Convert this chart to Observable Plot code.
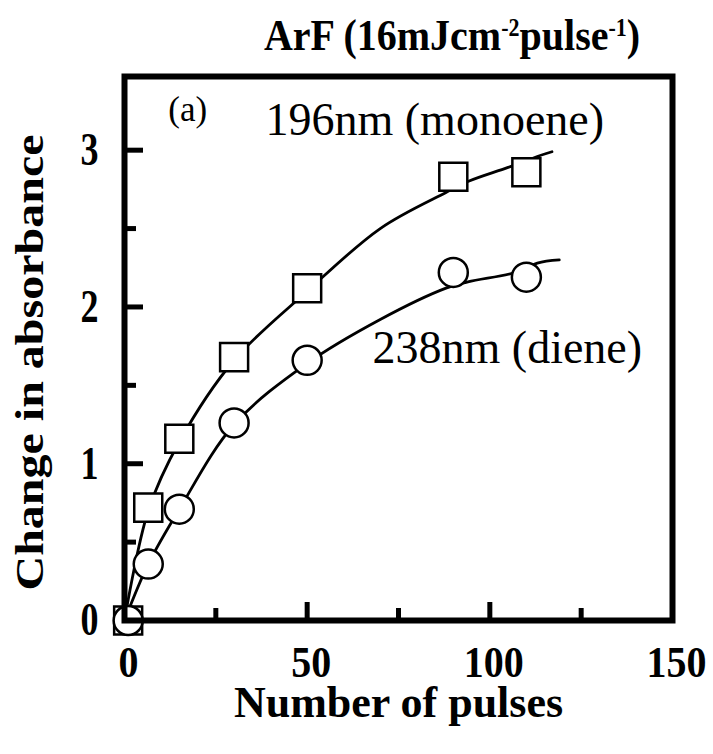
<!DOCTYPE html>
<html>
<head>
<meta charset="utf-8">
<script src="https://cdn.jsdelivr.net/npm/d3@7"></script>
<script src="https://cdn.jsdelivr.net/npm/@observablehq/plot@0.6"></script>
<style>
  html, body { margin: 0; padding: 0; background: #fff; }
  #wrap { width: 713px; height: 754px; position: relative; overflow: hidden; background: #fff; }
  #title { position: relative; height: 62px; font-family: "Liberation Serif", "Times New Roman", serif; font-weight: bold; font-size: 40px; color: #000; }
  #title span { position: absolute; left: 452px; top: 16px; line-height: 40px; transform: translateX(-50%) scaleY(1.12); white-space: nowrap; }
  #title sup { font-size: 0.55em; vertical-align: baseline; position: relative; top: -0.6em; }
  svg { display: block; }
</style>
</head>
<body>
<div id="wrap">
  <div id="title"><span>ArF (16mJcm<sup>-2</sup>pulse<sup>-1</sup>)</span></div>
  <div id="chart"></div>
</div>
<script>
const pulses = [1, 6.5, 15, 30, 50, 90, 110];
const abs196 = [0, 0.72, 1.16, 1.68, 2.12, 2.83, 2.86];   // squares, 196nm (monoene)
const abs238 = [0, 0.36, 0.71, 1.26, 1.66, 2.22, 2.19];   // circles, 238nm (diene)

// Fitted curves
const fit196X = [0, 6.5, 15, 30, 50, 70, 88, 94, 105, 113, 117];
const fit196Y = [0, 0.70, 1.14, 1.66, 2.10, 2.50, 2.73, 2.80, 2.89, 2.96, 2.99];
const fit238X = [0, 6.5, 15, 30, 50, 70, 88, 94, 107, 113, 119];
const fit238Y = [0, 0.36, 0.71, 1.25, 1.64, 1.92, 2.12, 2.16, 2.22, 2.28, 2.30];

// Axis ticks
const xTickLabels = [0, 50, 100, 150];
const xMajorTicks = [50, 100];
const xMinorTicks = [25, 75, 125];
const yTickLabels = [0, 1, 2, 3];
const yMajorTicks = [1, 2, 3];
const yMinorTicks = [0.5, 1.5, 2.5];

const pts196 = pulses.map((x, i) => ({x, y: abs196[i]}));
const pts238 = pulses.map((x, i) => ({x, y: abs238[i]}));
const fit196 = fit196X.map((x, i) => ({x, y: fit196Y[i]}));
const fit238 = fit238X.map((x, i) => ({x, y: fit238Y[i]}));

const H = 692, mT = 14, mB = 134, mL = 124, mR = 41;
const yDom = [0, 3.47], xDom = [0, 150];
const pxPerY = (H - mT - mB) / (yDom[1] - yDom[0]);
const pxPerX = (713 - mL - mR) / (xDom[1] - xDom[0]);
const serif = '"Liberation Serif", "Times New Roman", serif';

const chart = Plot.plot({
  width: 713,
  height: H,
  marginTop: mT,
  marginBottom: mB,
  marginLeft: mL,
  marginRight: mR,
  x: {domain: xDom},
  y: {domain: yDom},
  style: {fontFamily: serif, background: "white", color: "black", overflow: "visible"},
  marks: [
    Plot.line(fit196, {x: "x", y: "y", curve: "catmull-rom", stroke: "black", strokeWidth: 2.8}),
    Plot.line(fit238, {x: "x", y: "y", curve: "catmull-rom", stroke: "black", strokeWidth: 2.8}),
    Plot.dot(pts196, {x: "x", y: "y", symbol: "square", r: 15.8, fill: "white", stroke: "black", strokeWidth: 2.5}),
    Plot.dot(pts238, {x: "x", y: "y", symbol: "circle", r: 14.5, fill: "white", stroke: "black", strokeWidth: 2.5}),
    Plot.ruleX(xMajorTicks, {x: d => d, y1: 0, y2: 18 / pxPerY, stroke: "black", strokeWidth: 5}),
    Plot.ruleX(xMinorTicks, {x: d => d, y1: 0, y2: 12 / pxPerY, stroke: "black", strokeWidth: 5}),
    Plot.ruleY(yMajorTicks, {y: d => d, x1: 0, x2: 19 / pxPerX, stroke: "black", strokeWidth: 5}),
    Plot.ruleY(yMinorTicks, {y: d => d, x1: 0, x2: 12 / pxPerX, stroke: "black", strokeWidth: 5}),
    Plot.frame({stroke: "black", strokeWidth: 6}),
    Plot.axisX({ticks: xTickLabels, tickFormat: d => String(d), tickSize: 0, tickPadding: 25, dx: 4, fontSize: 40, fontWeight: "bold", label: null}),
    Plot.axisY({ticks: yTickLabels, tickFormat: d => String(d), tickSize: 0, tickPadding: 26, fontSize: 36, fontWeight: "bold", label: null}),
    Plot.text(["(a)"], {x: 12, y: 3.26, text: d => d, textAnchor: "start", fontSize: 35}),
    Plot.text(["196nm (monoene)"], {x: 38.6, y: 3.19, text: d => d, textAnchor: "start", fontSize: 46}),
    Plot.text(["238nm (diene)"], {x: 67.9, y: 1.736, text: d => d, textAnchor: "start", fontSize: 46}),
    Plot.text(["Change in absorbance"], {frameAnchor: "left", text: d => d, rotate: -90, textAnchor: "middle", lineAnchor: "middle", dx: -94, dy: 14, fontSize: 40, fontWeight: "bold"}),
    Plot.text(["Number of pulses"], {frameAnchor: "bottom", text: d => d, textAnchor: "middle", lineAnchor: "middle", dy: 82, fontSize: 44, fontWeight: "bold"})
  ]
});

document.getElementById("chart").appendChild(chart);

// Tall, narrow lettering of the original scan
function stretch(sel, sx, sy) {
  sel.each(function () {
    const tr = this.getAttribute("transform") || "";
    this.setAttribute("transform", (tr + ` scale(${sx},${sy})`).trim());
  });
}
const s = d3.select(chart);
stretch(s.selectAll('g[aria-label="y-axis tick label"] text'), 1, 1.3);
stretch(s.selectAll('g[aria-label="x-axis tick label"] text'), 1, 1.1);
stretch(s.selectAll("text").filter(function () { return this.textContent === "Change in absorbance"; }), 1.2, 1);
</script>
</body>
</html>
